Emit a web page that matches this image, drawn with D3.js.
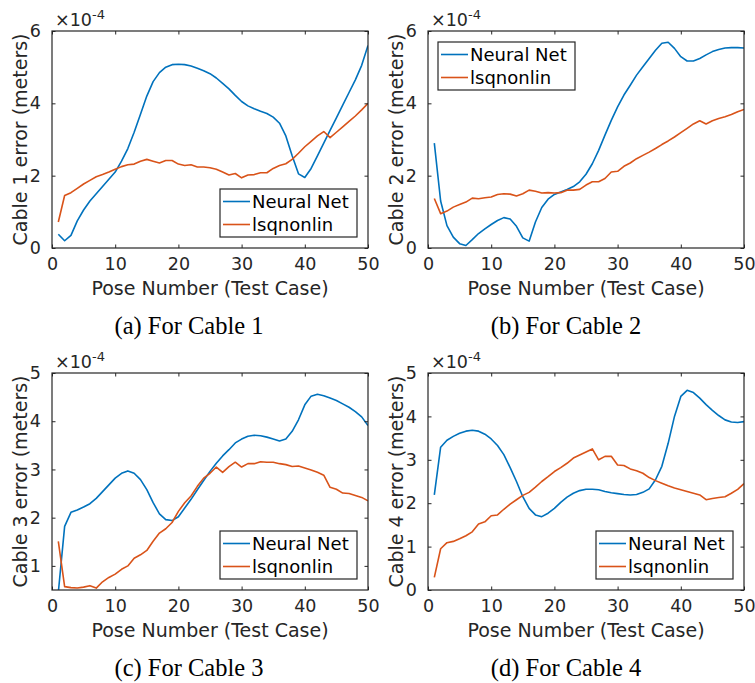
<!DOCTYPE html>
<html>
<head>
<meta charset="utf-8">
<script src="https://cdn.jsdelivr.net/npm/d3@7"></script>
<style>
  body { margin: 0; background: #fff; }
  svg { display: block; }
  .tick-label { font-family: 'DejaVu Sans', sans-serif; font-size: 17.5px; fill: #262626; }
  .axis-label { font-family: 'DejaVu Sans', sans-serif; font-size: 19px; fill: #262626; }
  .legend-text { font-family: 'DejaVu Sans', sans-serif; font-size: 18px; fill: #000; }
  .caption { font-family: 'Liberation Serif', 'Times New Roman', serif; font-size: 24.5px; fill: #000; }
</style>
</head>
<body>
<div id="chart"></div>
<script>
  const poses = [1,2,3,4,5,6,7,8,9,10,11,12,13,14,15,16,17,18,19,20,21,22,23,24,25,
    26,27,28,29,30,31,32,33,34,35,36,37,38,39,40,41,42,43,44,45,46,47,48,49,50];

  const seriesNames = ['Neural Net', 'lsqnonlin'];
  const seriesColors = ['#0072BD', '#D95319'];

  // values in units of 1e-4 m
  const cable1Neural = [0.38,0.2,0.35,0.75,1.05,1.3,1.5,1.7,1.9,2.1,2.4,2.75,3.2,3.7,4.2,4.6,4.85,5.0,5.07,5.08,
    5.07,5.03,4.97,4.9,4.82,4.7,4.55,4.4,4.22,4.05,3.93,3.85,3.78,3.72,3.62,3.45,3.1,2.55,2.05,1.95,
    2.2,2.55,2.9,3.25,3.6,3.95,4.3,4.65,5.05,5.6];
  const cable1Lsq = [0.72,1.45,1.53,1.65,1.77,1.87,1.97,2.03,2.1,2.18,2.25,2.3,2.32,2.4,2.45,2.4,2.35,2.42,2.42,2.32,
    2.28,2.3,2.24,2.24,2.22,2.18,2.1,2.02,2.06,1.94,2.02,2.03,2.08,2.08,2.2,2.28,2.33,2.45,2.62,2.8,
    2.95,3.1,3.22,3.05,3.2,3.35,3.5,3.65,3.82,4.0];

  const cable2Neural = [2.9,1.3,0.62,0.3,0.12,0.07,0.23,0.4,0.53,0.65,0.76,0.84,0.8,0.6,0.28,0.19,0.72,1.12,1.35,1.48,
    1.55,1.62,1.7,1.83,2.04,2.33,2.7,3.12,3.53,3.9,4.23,4.5,4.78,5.01,5.24,5.47,5.66,5.69,5.52,5.29,
    5.17,5.17,5.24,5.34,5.43,5.49,5.53,5.54,5.54,5.53];
  const cable2Lsq = [1.37,0.95,1.02,1.13,1.2,1.27,1.38,1.36,1.39,1.41,1.48,1.5,1.49,1.44,1.5,1.6,1.57,1.52,1.53,1.52,
    1.53,1.6,1.6,1.62,1.74,1.83,1.83,1.92,2.1,2.12,2.26,2.35,2.47,2.56,2.65,2.75,2.86,2.96,3.07,3.19,
    3.31,3.43,3.52,3.43,3.52,3.58,3.63,3.69,3.77,3.83];

  const cable3Neural = [0.45,1.82,2.11,2.16,2.22,2.29,2.4,2.54,2.68,2.82,2.92,2.97,2.92,2.79,2.58,2.31,2.08,1.96,1.94,2.02,
    2.2,2.38,2.58,2.77,2.96,3.13,3.28,3.41,3.55,3.63,3.69,3.71,3.7,3.67,3.63,3.59,3.63,3.79,4.03,4.34,
    4.52,4.56,4.53,4.48,4.43,4.36,4.29,4.2,4.09,3.91];
  const cable3Lsq = [1.51,0.57,0.55,0.54,0.56,0.59,0.54,0.67,0.76,0.83,0.93,1.0,1.16,1.23,1.32,1.51,1.68,1.77,1.9,2.13,
    2.31,2.45,2.65,2.82,2.92,3.05,2.94,3.06,3.15,3.05,3.12,3.12,3.16,3.15,3.15,3.12,3.1,3.06,3.07,3.03,
    2.99,2.94,2.88,2.63,2.59,2.51,2.5,2.46,2.42,2.35];

  const cable4Neural = [2.19,3.29,3.45,3.54,3.61,3.66,3.68,3.66,3.59,3.48,3.33,3.12,2.82,2.5,2.15,1.88,1.73,1.69,1.77,1.88,
    2.02,2.14,2.23,2.29,2.32,2.32,2.31,2.27,2.24,2.22,2.2,2.19,2.2,2.25,2.33,2.54,2.85,3.38,4.0,4.46,
    4.6,4.55,4.42,4.27,4.14,4.02,3.92,3.87,3.86,3.88];
  const cable4Lsq = [0.29,0.95,1.09,1.12,1.18,1.25,1.34,1.52,1.57,1.71,1.73,1.86,1.98,2.08,2.18,2.25,2.37,2.5,2.61,2.73,
    2.82,2.92,3.04,3.11,3.18,3.25,3.0,3.08,3.08,2.88,2.87,2.79,2.75,2.69,2.59,2.52,2.46,2.4,2.35,2.31,
    2.27,2.23,2.19,2.08,2.11,2.13,2.15,2.23,2.32,2.45];

  const xTicks = [0, 10, 20, 30, 40, 50];
  const yTicksTop = [0, 2, 4, 6];
  const yTicks3 = [1, 2, 3, 4, 5];
  const yTicks4 = [0, 1, 2, 3, 4, 5];

  const panels = [
    { id: 1, left: 52, top: 31, cx: 189, yDomain: [0, 6], yTicks: yTicksTop, values: [cable1Neural, cable1Lsq], legend: 'br', caption: '(a) For Cable 1' },
    { id: 2, left: 428, top: 31, cx: 566, yDomain: [0, 6], yTicks: yTicksTop, values: [cable2Neural, cable2Lsq], legend: 'tl', caption: '(b) For Cable 2' },
    { id: 3, left: 52, top: 373, cx: 189, yDomain: [0.5, 5], yTicks: yTicks3, values: [cable3Neural, cable3Lsq], legend: 'br', caption: '(c) For Cable 3' },
    { id: 4, left: 428, top: 373, cx: 566, yDomain: [0, 5], yTicks: yTicks4, values: [cable4Neural, cable4Lsq], legend: 'br', caption: '(d) For Cable 4' }
  ];

  const width = 316;
  const height = 217;
  const tickLen = 3.5;
  const axisColor = '#262626';
  const fmt = d3.format('d');

  const svg = d3.select('#chart').append('svg')
    .attr('width', 755)
    .attr('height', 683);

  panels.forEach(p => {
    const g = svg.append('g').attr('transform', `translate(${p.left}, ${p.top})`);

    const xScale = d3.scaleLinear().domain([0, 50]).range([0, width]);
    const yScale = d3.scaleLinear().domain(p.yDomain).range([height, 0]);

    g.append('clipPath').attr('id', `clip${p.id}`)
      .append('rect').attr('width', width).attr('height', height);

    // lines
    const line = d3.line()
      .x((d, i) => xScale(poses[i]))
      .y(d => yScale(d));

    p.values.forEach((vals, k) => {
      g.append('path')
        .datum(vals)
        .attr('clip-path', `url(#clip${p.id})`)
        .attr('fill', 'none')
        .attr('stroke', seriesColors[k])
        .attr('stroke-width', 1.6)
        .attr('stroke-linejoin', 'round')
        .attr('d', line);
    });

    // axes: ticks inside on all sides
    const bottom = g.append('g').attr('transform', `translate(0, ${height})`)
      .call(d3.axisBottom(xScale).tickValues(xTicks).tickSize(-tickLen).tickPadding(10).tickFormat(fmt));
    const top = g.append('g')
      .call(d3.axisTop(xScale).tickValues(xTicks).tickSize(-tickLen).tickFormat(''));
    const left = g.append('g')
      .call(d3.axisLeft(yScale).tickValues(p.yTicks).tickSize(-tickLen).tickPadding(11).tickFormat(fmt));
    const right = g.append('g').attr('transform', `translate(${width}, 0)`)
      .call(d3.axisRight(yScale).tickValues(p.yTicks).tickSize(-tickLen).tickFormat(''));

    [bottom, top, left, right].forEach(a => {
      a.select('.domain').remove();
      a.selectAll('line').attr('stroke', axisColor).attr('stroke-width', 1);
      a.selectAll('text').attr('class', 'tick-label').attr('fill', null);
      a.attr('font-family', null).attr('font-size', null);
    });
    bottom.selectAll('text').attr('dy', '0.71em');

    g.append('rect')
      .attr('width', width)
      .attr('height', height)
      .attr('fill', 'none')
      .attr('stroke', axisColor)
      .attr('stroke-width', 1.2);

    // exponent label
    const expo = g.append('text')
      .attr('class', 'tick-label')
      .attr('x', 3)
      .attr('y', -5);
    expo.append('tspan').text('\u00d710');
    expo.append('tspan').attr('dy', -7).style('font-size', '13px').text('-4');

    // axis labels
    g.append('text')
      .attr('class', 'axis-label')
      .attr('x', width / 2)
      .attr('y', height + 47)
      .attr('text-anchor', 'middle')
      .text('Pose Number (Test Case)');

    g.append('text')
      .attr('class', 'axis-label')
      .attr('transform', `translate(-25, ${height / 2}) rotate(-90)`)
      .attr('text-anchor', 'middle')
      .text(`Cable ${p.id} error (meters)`);

    // legend
    const lw = 137, lh = 48;
    const lx = p.legend === 'br' ? width - lw - 11 : 10;
    const ly = p.legend === 'br' ? height - lh - 11 : 11;
    const legend = g.append('g').attr('transform', `translate(${lx}, ${ly})`);
    legend.append('rect')
      .attr('width', lw)
      .attr('height', lh)
      .attr('fill', '#fff')
      .attr('stroke', axisColor)
      .attr('stroke-width', 1.2);
    seriesNames.forEach((name, k) => {
      const yy = 12.5 + k * 23;
      legend.append('line')
        .attr('x1', 3).attr('x2', 30)
        .attr('y1', yy).attr('y2', yy)
        .attr('stroke', seriesColors[k])
        .attr('stroke-width', 1.6);
      legend.append('text')
        .attr('class', 'legend-text')
        .attr('x', 32)
        .attr('y', yy + 6.5)
        .text(name);
    });

    // caption, centred under the subfigure
    svg.append('text')
      .attr('class', 'caption')
      .attr('x', p.cx)
      .attr('y', p.top + 303)
      .attr('text-anchor', 'middle')
      .text(p.caption);
  });
</script>
</body>
</html>
